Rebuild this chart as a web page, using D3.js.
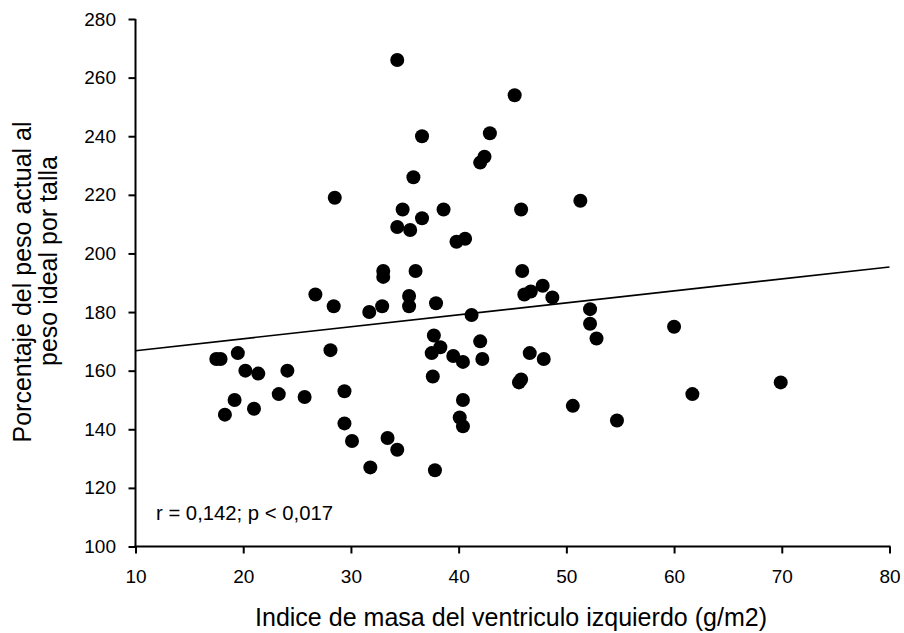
<!DOCTYPE html>
<html>
<head>
<meta charset="utf-8">
<script src="https://cdn.jsdelivr.net/npm/d3@7"></script>
<style>
html,body{margin:0;padding:0;background:#fff;}
svg{display:block;}
text{font-family:"Liberation Sans", Arial, sans-serif;fill:#000;}
</style>
</head>
<body>
<svg id="chart" width="904" height="633"></svg>
<script>
const xValues = [34.3,36.6,42.9,42.4,42.0,35.8,28.5,34.8,38.6,36.6,34.3,35.5,39.8,40.6,33.0,33.0,36.0,26.7,35.4,35.4,
  45.2,51.3,45.8,45.9,47.8,46.1,46.7,48.7,37.9,41.2,52.2,52.2,52.8,60.0,37.7,38.3,37.5,42.0,39.5,40.4,
  42.2,46.6,47.9,37.6,45.8,45.6,40.4,40.1,40.4,50.6,54.7,61.7,69.9,37.8,28.4,31.7,32.9,17.5,17.9,19.5,
  20.2,21.4,24.1,19.2,18.3,21.0,23.3,25.7,28.1,29.4,29.4,30.1,33.4,34.3,31.8];
const yValues = [266,240,241,233,231,226,219,215,215,212,209,208,204,205,194,192,194,186,185.5,182,
  254,218,215,194,189,186,187,185,183,179,181,176,171,175,172,168,166,170,165,163,
  164,166,164,158,157,156,150,144,141,148,143,152,156,126,182,180,182,164,164,166,
  160,159,160,150,145,147,152,151,167,153,142,136,137,133,127];
const regX = [10, 80];
const regY = [166.8, 195.4];
const xTicks = [10,20,30,40,50,60,70,80];
const yTicks = [100,120,140,160,180,200,220,240,260,280];
const xTitle = "Indice de masa del ventriculo izquierdo (g/m2)";
const yTitleLines = ["Porcentaje del peso actual al", "peso ideal por talla"];
const annotation = "r = 0,142; p < 0,017";

const svg = d3.select("#chart");
const x = d3.scaleLinear().domain([10, 80]).range([135.5, 889.5]);
const y = d3.scaleLinear().domain([100, 280]).range([546.5, 19]);

// axes
const xAxis = svg.append("g").attr("transform", "translate(0,546.5)")
  .call(d3.axisBottom(x).tickValues(xTicks).tickSize(7).tickPadding(16).tickSizeOuter(0));
const yAxis = svg.append("g").attr("transform", "translate(135.5,0)")
  .call(d3.axisLeft(y).tickValues(yTicks).tickSize(7).tickPadding(12.5).tickSizeOuter(0));
[xAxis, yAxis].forEach(g => {
  g.attr("font-size", null).attr("font-family", null);
  g.select(".domain").attr("stroke", "#000").attr("stroke-width", 2);
  g.selectAll(".tick line").attr("stroke", "#000").attr("stroke-width", 2);
  g.selectAll(".tick text").style("font-size", "19px").style("font-family", "'Liberation Sans', Arial, sans-serif").attr("fill", "#000");
});
xAxis.select(".domain").attr("d", `M${x(10)-1},0H${x(80)+1}`);
yAxis.select(".domain").attr("d", `M0,${y(280)}V${y(100)+1}`);

// regression line
svg.append("path")
  .datum(regX.map((v, i) => [v, regY[i]]))
  .attr("fill", "none").attr("stroke", "#000").attr("stroke-width", 1.6)
  .attr("d", d3.line().x(d => x(d[0])).y(d => y(d[1])));

// points
svg.append("g").selectAll("circle")
  .data(xValues.map((v, i) => [v, yValues[i]]))
  .join("circle")
  .attr("cx", d => x(d[0])).attr("cy", d => y(d[1]))
  .attr("r", 7).attr("fill", "#000");

// annotation
svg.append("text").attr("x", 156).attr("y", 520).style("font-size", "20px")
  .attr("textLength", 177).attr("lengthAdjust", "spacingAndGlyphs").text(annotation);

// x title
svg.append("text").attr("x", 511).attr("y", 626).attr("text-anchor", "middle")
  .style("font-size", "25px").attr("textLength", 512).attr("lengthAdjust", "spacingAndGlyphs").text(xTitle);

// y title
const yCenters = [282, 261];
const yBase = [31, 57];
yTitleLines.forEach((t, i) => {
  svg.append("text")
    .attr("transform", `translate(${yBase[i]},${yCenters[i]}) rotate(-90)`)
    .attr("text-anchor", "middle").style("font-size", "25px").text(t);
});
</script>
</body>
</html>
